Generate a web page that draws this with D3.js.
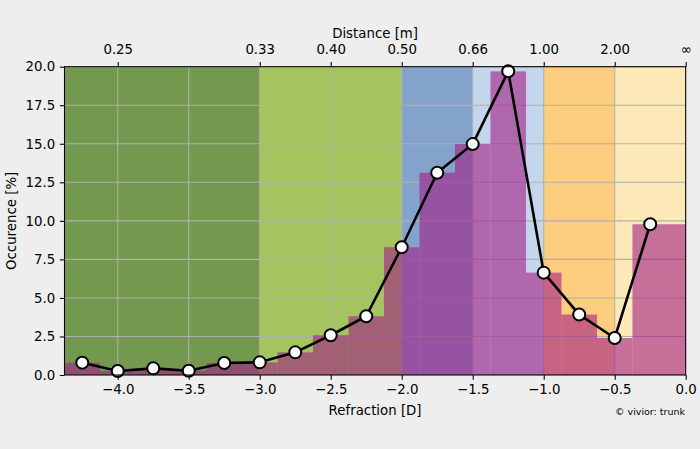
<!DOCTYPE html>
<html>
<head>
<meta charset="utf-8">
<script src="https://cdn.jsdelivr.net/npm/d3@7"></script>
<style>
  html, body { margin: 0; padding: 0; background: #eeeeee; }
  svg { display: block; font-family: "DejaVu Sans", sans-serif; }
</style>
</head>
<body>
<svg id="chart" width="700" height="449"></svg>
<script>
// ---- data ----
const refraction = [-4.25, -4.0, -3.75, -3.5, -3.25, -3.0, -2.75, -2.5, -2.25, -2.0, -1.75, -1.5, -1.25, -1.0, -0.75, -0.5, -0.25];
const occurrence = [0.80, 0.26, 0.43, 0.28, 0.78, 0.82, 1.47, 2.58, 3.81, 8.29, 13.12, 14.98, 19.70, 6.64, 3.92, 2.40, 9.78];
const binWidth = 0.25;

const zoneEdges = [-4.375, -3.0, -2.0, -1.5, -1.0, -0.5, 0.0];
const zoneColors = ["#73994f", "#a3c45e", "#84a3cc", "#c3d6ec", "#fccd7e", "#fde8b8"];

const bottomTicks = [-4.0, -3.5, -3.0, -2.5, -2.0, -1.5, -1.0, -0.5, 0.0];
const yTicks = [0, 2.5, 5, 7.5, 10, 12.5, 15, 17.5, 20];
const distanceTickPos = [-4.0, -3.0, -2.5, -2.0, -1.5, -1.0, -0.5, 0.0];
const distanceTickLabels = ["0.25", "0.33", "0.40", "0.50", "0.66", "1.00", "2.00", "∞"];

// ---- layout ----
const mLeft = 64.5, mRight = 685.7, mTop = 66.7, mBottom = 375;
const fs = 13.33;

const svg = d3.select("#chart");
const x = d3.scaleLinear().domain([zoneEdges[0], 0]).range([mLeft, mRight]);
const y = d3.scaleLinear().domain([0, 20]).range([mBottom, mTop]);

svg.append("defs").append("clipPath").attr("id", "plotclip")
  .append("rect").attr("x", mLeft).attr("y", mTop).attr("width", mRight - mLeft).attr("height", mBottom - mTop);

const plot = svg.append("g").attr("clip-path", "url(#plotclip)");

// zones
plot.selectAll("rect.zone")
  .data(zoneColors)
  .join("rect")
  .attr("class", "zone")
  .attr("x", (d, i) => x(zoneEdges[i]))
  .attr("width", (d, i) => x(zoneEdges[i + 1]) - x(zoneEdges[i]))
  .attr("y", mTop)
  .attr("height", mBottom - mTop)
  .attr("fill", d => d);

// grid
plot.selectAll("line.vgrid")
  .data(bottomTicks)
  .join("line")
  .attr("class", "vgrid")
  .attr("x1", d => x(d)).attr("x2", d => x(d))
  .attr("y1", mTop).attr("y2", mBottom)
  .attr("stroke", "#b0b0b0").attr("stroke-width", 1.07);
plot.selectAll("line.hgrid")
  .data(yTicks)
  .join("line")
  .attr("class", "hgrid")
  .attr("x1", mLeft).attr("x2", mRight)
  .attr("y1", d => y(d)).attr("y2", d => y(d))
  .attr("stroke", "#b0b0b0").attr("stroke-width", 1.07);

// bars
const lastIdx = refraction.length - 1;
plot.selectAll("rect.bar")
  .data(refraction)
  .join("rect")
  .attr("class", "bar")
  .attr("x", d => x(d - binWidth / 2))
  .attr("width", (d, i) => (i === lastIdx ? x(0) : x(d + binWidth / 2)) - x(d - binWidth / 2))
  .attr("y", (d, i) => y(occurrence[i]))
  .attr("height", (d, i) => y(0) - y(occurrence[i]))
  .attr("fill", "rgb(162,30,132)")
  .attr("fill-opacity", 0.6);

// line
const line = d3.line().x((d, i) => x(refraction[i])).y(d => y(d));
svg.append("path")
  .datum(occurrence)
  .attr("d", line)
  .attr("fill", "none")
  .attr("stroke", "#000")
  .attr("stroke-width", 2.6)
  .attr("stroke-linejoin", "round");

svg.selectAll("circle.pt")
  .data(occurrence)
  .join("circle")
  .attr("class", "pt")
  .attr("cx", (d, i) => x(refraction[i]))
  .attr("cy", d => y(d))
  .attr("r", 6)
  .attr("fill", "#fff")
  .attr("stroke", "#000")
  .attr("stroke-width", 2);

// axes
function styleAxis(g) {
  g.selectAll("text").attr("font-size", fs).attr("fill", "#000").attr("font-family", "DejaVu Sans, sans-serif");
  g.selectAll("line").attr("stroke", "#000").attr("stroke-width", 1.07);
  g.select(".domain").remove();
}

svg.append("g")
  .attr("transform", `translate(0,${mBottom})`)
  .call(d3.axisBottom(x).tickValues(bottomTicks).tickFormat(d3.format(".1f")).tickSize(4.67).tickPadding(4.67))
  .call(styleAxis);

svg.append("g")
  .attr("transform", `translate(${mLeft},0)`)
  .call(d3.axisLeft(y).tickValues(yTicks).tickFormat(d3.format(".1f")).tickSize(4.67).tickPadding(4.67))
  .call(styleAxis);

svg.append("g")
  .attr("transform", `translate(0,${mTop})`)
  .call(d3.axisTop(x).tickValues(distanceTickPos)
    .tickFormat((d, i) => distanceTickLabels[i]).tickSize(4.67).tickPadding(8.5))
  .call(styleAxis);

// frame
svg.append("rect")
  .attr("x", mLeft).attr("y", mTop)
  .attr("width", mRight - mLeft).attr("height", mBottom - mTop)
  .attr("fill", "none").attr("stroke", "#000").attr("stroke-width", 1.07);

// labels
svg.append("text")
  .attr("x", (mLeft + mRight) / 2).attr("y", 415)
  .attr("text-anchor", "middle").attr("font-size", fs)
  .text("Refraction [D]");

svg.append("text")
  .attr("x", (mLeft + mRight) / 2).attr("y", 37.5)
  .attr("text-anchor", "middle").attr("font-size", fs)
  .text("Distance [m]");

svg.append("text")
  .attr("transform", `translate(16,${(mTop + mBottom) / 2}) rotate(-90)`)
  .attr("text-anchor", "middle").attr("font-size", fs)
  .text("Occurence [%]");

svg.append("text")
  .attr("x", 685).attr("y", 415)
  .attr("text-anchor", "end").attr("font-size", 9.5)
  .text("© vivior: trunk");
</script>
</body>
</html>
